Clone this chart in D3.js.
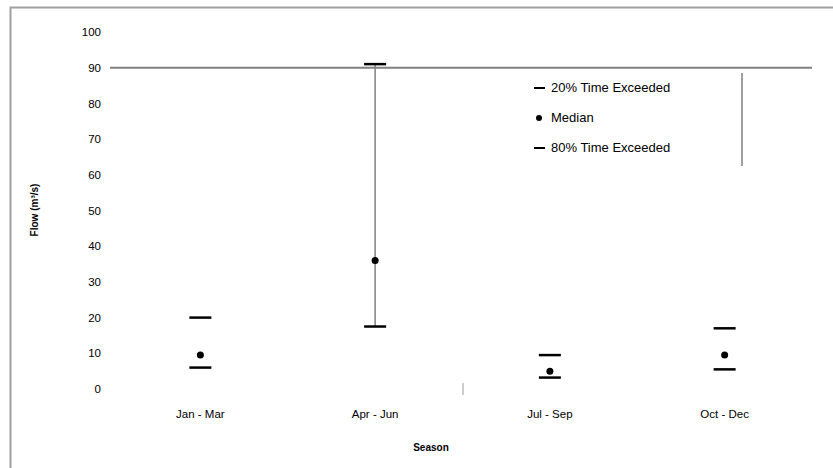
<!DOCTYPE html>
<html>
<head>
<meta charset="utf-8">
<script src="https://cdn.jsdelivr.net/npm/d3@7"></script>
<style>
  html, body { margin: 0; padding: 0; background: #fff; }
  svg { display: block; font-family: "Liberation Sans", Arial, sans-serif; }
</style>
</head>
<body>
<svg id="chart" width="833" height="468"></svg>
<script>
const categories = ["Jan - Mar", "Apr - Jun", "Jul - Sep", "Oct - Dec"];
const p20 = [20, 91, 9.5, 17];
const median = [9.5, 36, 5, 9.5];
const p80 = [6, 17.5, 3.2, 5.5];
const yTicks = [0, 10, 20, 30, 40, 50, 60, 70, 80, 90, 100];
const legendLabels = ["20% Time Exceeded", "Median", "80% Time Exceeded"];

const svg = d3.select("#chart");
const W = 833, H = 468;
const m = { left: 113, right: 812, top: 32, bottom: 389 };

// outer frame
svg.append("rect").attr("x", 10.5).attr("y", 7.5).attr("width", W).attr("height", H)
  .attr("fill", "#fff").attr("stroke", "#a0a0a0").attr("stroke-width", 2);

const x = d3.scaleBand().domain(categories).range([m.left, m.right]);
const y = d3.scaleLinear().domain([0, 100]).range([m.bottom, m.top]);

// y axis labels
const yAxis = d3.axisLeft(y).tickValues(yTicks).tickSize(0).tickPadding(10);
const gy = svg.append("g").attr("transform", `translate(${m.left - 2},0)`).call(yAxis);
gy.select(".domain").remove();
gy.selectAll("text").attr("font-size", 11.5).attr("fill", "#000");

// line at 90
svg.append("line").attr("x1", m.left - 3).attr("x2", m.right)
  .attr("y1", y(90)).attr("y2", y(90)).attr("stroke", "#808080").attr("stroke-width", 2);

// x axis labels
const xAxis = d3.axisBottom(x).tickSize(0).tickPadding(21);
const gx = svg.append("g").attr("transform", `translate(0,${m.bottom})`).call(xAxis);
gx.select(".domain").remove();
gx.selectAll("text").attr("font-size", 11.5).attr("fill", "#000");

// whiskers / marks
const cx = d => x(d) + x.bandwidth() / 2;
const capW = 22;
categories.forEach((c, i) => {
  if (i === 1) {
    svg.append("line").attr("x1", cx(c)).attr("x2", cx(c))
      .attr("y1", y(p20[i])).attr("y2", y(p80[i])).attr("stroke", "#808080").attr("stroke-width", 1.5);
  }
  svg.append("line").attr("x1", cx(c) - capW / 2).attr("x2", cx(c) + capW / 2)
    .attr("y1", y(p20[i])).attr("y2", y(p20[i])).attr("stroke", "#000").attr("stroke-width", 2.5);
  svg.append("line").attr("x1", cx(c) - capW / 2).attr("x2", cx(c) + capW / 2)
    .attr("y1", y(p80[i])).attr("y2", y(p80[i])).attr("stroke", "#000").attr("stroke-width", 2.5);
  svg.append("circle").attr("cx", cx(c)).attr("cy", y(median[i])).attr("r", 3.5).attr("fill", "#000");
});

// small stray tick
svg.append("line").attr("x1", 463).attr("x2", 463).attr("y1", 383).attr("y2", 395)
  .attr("stroke", "#999").attr("stroke-width", 1);

// legend
const lg = svg.append("g");
lg.append("line").attr("x1", 742).attr("x2", 742).attr("y1", 73).attr("y2", 166)
  .attr("stroke", "#808080").attr("stroke-width", 1.5);
legendLabels.forEach((t, i) => {
  const ly = 88 + i * 30;
  if (i === 1) {
    lg.append("circle").attr("cx", 539).attr("cy", ly).attr("r", 3).attr("fill", "#000");
  } else {
    lg.append("line").attr("x1", 534).attr("x2", 545).attr("y1", ly).attr("y2", ly)
      .attr("stroke", "#000").attr("stroke-width", 2);
  }
  lg.append("text").attr("x", 551).attr("y", ly + 4).attr("font-size", 13).attr("fill", "#000").text(t);
});

// axis titles
svg.append("text").attr("transform", `translate(38,210) rotate(-90)`)
  .attr("text-anchor", "middle").attr("font-size", 10).attr("font-weight", "bold").text("Flow (m³/s)");
svg.append("text").attr("x", 431).attr("y", 451).attr("text-anchor", "middle")
  .attr("font-size", 10).attr("font-weight", "bold").text("Season");
</script>
</body>
</html>
